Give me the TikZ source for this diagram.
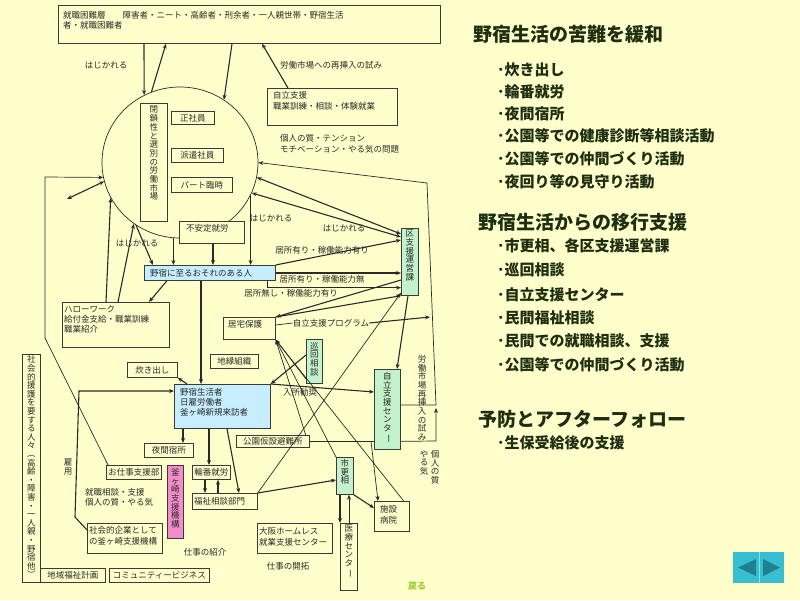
\documentclass[tikz,border=0pt]{standalone}
\usepackage{fontspec}
\usepackage{graphicx}
\newfontfamily\jp{Noto Sans CJK JP}
\usetikzlibrary{shapes.geometric,arrows.meta,calc}
\definecolor{bgc}{HTML}{FFFFCC}
\definecolor{bluec}{HTML}{C6EEFF}
\definecolor{greenc}{HTML}{C4F2CC}
\definecolor{pinkc}{HTML}{F28CCB}
\definecolor{edgec}{HTML}{3A3A3A}
\definecolor{linec}{HTML}{2A2A2A}
\definecolor{txtc}{HTML}{2A2A2A}
\definecolor{rtc}{HTML}{1E2E10}
\definecolor{modoruc}{HTML}{99CC33}
\definecolor{tealc}{HTML}{38BFCF}
\definecolor{tealdk}{HTML}{1F8090}
\definecolor{teallt}{HTML}{7FE0EA}
\newcommand\vrot[1]{\rotatebox[origin=c]{-90}{#1}}
\tikzset{
  bx/.style={draw=edgec, line width=0.7pt, fill=bgc, inner sep=0pt, anchor=north west,
    font=\jp\fontsize{8.5}{10}\selectfont, text=txtc},
  bxb/.style={bx, fill=bluec},
  bxg/.style={bx, fill=greenc},
  bxp/.style={bx, fill=pinkc},
  vt/.style={align=center, inner sep=0pt, font=\jp\fontsize{8.5}{8.7}\selectfont, text=txtc},
  vtl/.style={vt, anchor=north},
  lt/.style={anchor=north west, inner sep=0pt, align=left, font=\jp\fontsize{8.5}{10.5}\selectfont, text=txtc},
  lbl/.style={inner sep=0pt, font=\jp\fontsize{8.5}{10}\selectfont, text=txtc},
  ar/.style={-{Stealth[length=5pt,width=4pt]}, line width=1.1pt, draw=linec},
  art/.style={-{Stealth[length=5pt,width=4pt]}, line width=0.7pt, draw=linec},
  dar/.style={{Stealth[length=5pt,width=4pt]}-{Stealth[length=5pt,width=4pt]}, line width=1.1pt, draw=linec},
  ln/.style={line width=0.7pt, draw=linec},
  rtitle/.style={anchor=west, inner sep=0pt, text=rtc, font=\jp\bfseries\fontsize{19}{22}\selectfont},
  ritem/.style={anchor=west, inner sep=0pt, text=rtc, font=\jp\bfseries\fontsize{15}{17}\selectfont}
}
\begin{document}
\begin{tikzpicture}[x=1pt,y=-1pt]
\fill[bgc] (0,0) rectangle (800,600);
\useasboundingbox (0,0) rectangle (800,600);

% ---------- labour market ellipse and its content
\node[draw=linec, line width=0.7pt, ellipse, minimum width=156, minimum height=151, inner sep=0pt] (mkt) at (180,162.5) {};

\node[bx, minimum width=382, minimum height=38,
  label={[lt,xshift=5,yshift=-6,font=\jp\fontsize{8.5}{10}\selectfont]north west:{就職困難層　　障害者・ニート・高齢者・刑余者・一人親世帯・野宿生活\\者・就職困難者}}] (top) at (58,5) {};
\node[bx, minimum width=130, minimum height=37,
  label={[lt,xshift=6,yshift=-3,font=\jp\fontsize{8.5}{11.5}\selectfont]north west:{自立支援\\職業訓練・相談・体験就業}}] (jiritsu1) at (267,88) {};

\node[bx, minimum width=27, minimum height=118,
  label={[vtl,yshift=-3]north:{閉\\鎖\\性\\と\\選\\別\\の\\労\\働\\市\\場}}] (heisa) at (140,103) {};
\node[bx, minimum width=43, minimum height=13] (seisha) at (171,111) {正社員};
\node[bx, minimum width=52, minimum height=14] (haken) at (171,148) {派遣社員};
\node[bx, minimum width=61, minimum height=15] (part) at (171,177) {パート臨時};
\node[bx, minimum width=65, minimum height=22,
  label={[lt,xshift=7,yshift=-3]north west:{不安定就労}}] (fuantei) at (179,221) {};

% ---------- left / middle boxes
\node[bx, minimum width=107, minimum height=45,
  label={[lt,xshift=2,yshift=-3,font=\jp\fontsize{8.5}{10}\selectfont]north west:{ハローワーク\\給付金支給・職業訓練\\職業紹介}}] (hello) at (62,302) {};
\node[bxb, minimum width=131, minimum height=15,
  label={[lbl,anchor=west,xshift=6]west:{野宿に至るおそれのある人}}] (nojuku) at (144,265) {};
\node[bxg, minimum width=17, minimum height=67,
  label={[vtl,yshift=-2]north:{区\\支\\援\\運\\営\\課}}] (kushien) at (401,228) {};
\node[bx, minimum width=52, minimum height=22,
  label={[lt,xshift=5,yshift=-3.5]north west:{居宅保護}}] (kyotaku) at (223,317) {};
\node[bxg, minimum width=16, minimum height=44,
  label={[vtl,yshift=-3]north:{巡\\回\\相\\談}}] (junkai) at (306,339) {};
\node[bx, minimum width=48, minimum height=14] (chien) at (210,354) {地縁組織};
\node[bx, minimum width=50, minimum height=15] (takidashi) at (127,362) {炊き出し};
\node[bxb, minimum width=96, minimum height=44,
  label={[lt,xshift=6,yshift=-4,font=\jp\fontsize{8.5}{10.2}\selectfont]north west:{野宿生活者\\日雇労働者\\釜ヶ崎新規来訪者}}] (nojukusei) at (174,384) {};
\node[bx, minimum width=49, minimum height=14] (yakan) at (144,443) {夜間宿所};
\node[bx, minimum width=55, minimum height=14] (oshigoto) at (106,465) {お仕事支援部};
\node[bxp, minimum width=16, minimum height=73,
  label={[vtl,yshift=-3]north:{釜\\ヶ\\崎\\支\\援\\機\\構}}] (kamasien) at (167,465) {};
\node[bx, minimum width=38, minimum height=14] (rinban) at (192,465) {輪番就労};
\node[bx, minimum width=65, minimum height=16,
  label={[lbl,anchor=west,xshift=2]west:{福祉相談部門}}] (fukushi) at (192,493) {};
\node[bx, minimum width=75, minimum height=30,
  label={[lt,xshift=2,yshift=-3,font=\jp\fontsize{8.5}{11}\selectfont]north west:{社会的企業として\\の釜ヶ崎支援機構}}] (shakai) at (87,523) {};
\node[bx, minimum width=18, minimum height=228,
  label={[vtl,yshift=-1.5,font=\jp\fontsize{8.5}{8.6}\selectfont]north:{社\\会\\的\\援\\護\\を\\要\\す\\る\\人\\々\\\vrot{（}\\高\\齢\\・\\障\\害\\・\\一\\人\\親\\・\\野\\宿\\他\\\vrot{）}}}] (engo) at (22,354) {};
\node[bx, minimum width=65, minimum height=14] (chiiki) at (40,568) {地域福祉計画};
\node[bx, minimum width=100, minimum height=14] (community) at (109,568) {コミュニティービジネス};
\node[bx, minimum width=73, minimum height=12] (koen) at (236,435) {公園仮設避難所};
\node[bxg, minimum width=26, minimum height=80,
  label={[vtl,yshift=-3]north:{自\\立\\支\\援\\セ\\ン\\タ\\\vrot{ー}}}] (jiritsuC) at (374,369) {};
\node[bxg, minimum width=17, minimum height=37,
  label={[vtl,yshift=-2]north:{市\\更\\相}}] (shikou) at (336,457) {};
\node[bx, minimum width=17, minimum height=67,
  label={[vtl,yshift=-2]north:{医\\療\\セ\\ン\\タ\\\vrot{ー}}}] (iryou) at (340,523) {};
\node[bx, minimum width=35, minimum height=30,
  label={[lt,xshift=6,yshift=-4,font=\jp\fontsize{8.5}{11}\selectfont]north west:{施設\\病院}}] (shisetsu) at (374,501) {};
\node[bx, minimum width=75, minimum height=30,
  label={[lt,xshift=2,yshift=-4,font=\jp\fontsize{8.5}{11}\selectfont]north west:{大阪ホームレス\\就業支援センター}}] (osaka) at (257,523) {};

% ---------- free labels
\node[lbl] (hj1) at (106,65) {はじかれる};
\node[lbl] (rsn) at (331,65) {労働市場への再挿入の試み};
\node[lbl, anchor=north west, align=left, font=\jp\fontsize{8.5}{11}\selectfont] (kojin) at (280,134) {個人の質・テンション\\モチベーション・やる気の問題};
\node[lbl] (hj2) at (271,218) {はじかれる};
\node[lbl] (hj3) at (344,228) {はじかれる};
\node[lbl] (hj4) at (137,243) {はじかれる};
\node[lbl] (ky1) at (322,250) {居所有り・稼働能力有り};
\node[lbl] (ky2) at (322,279) {居所有り・稼働能力無};
\node[lbl] (ky3) at (291,293) {居所無し・稼働能力有り};
\node[lbl] (jprog) at (331,323) {自立支援プログラム};
\node[lbl] (nyusho) at (300,392) {入所勧奨};
\node[vtl] (rodo2) at (422,355) {労\\働\\市\\場\\再\\挿\\入\\の\\試\\み};
\node[vtl] (kojin2a) at (435,450) {個\\人\\の\\質};
\node[vtl] (kojin2b) at (424,450) {や\\る\\気};
\node[vtl] (koyou) at (68,459) {雇\\用};
\node[lbl, anchor=north west, align=left, font=\jp\fontsize{8.5}{10.5}\selectfont] (shushoku) at (85,488) {就職相談・支援\\個人の質・やる気};
\node[lbl] (sg1) at (205,552) {仕事の紹介};
\node[lbl] (sg2) at (288,566) {仕事の開拓};
\node[lbl, text=modoruc, font=\jp\bfseries\fontsize{9}{10}\selectfont] (modoru) at (417,586) {戻る};

% ---------- connectors
\draw[ar] ([xshift=86]top.south west) -- (mkt.118);
\draw[ar] (mkt.112) -- ([xshift=108]top.south west);
\draw[ar] ([xshift=174]top.south west) -- (mkt.55);
\draw[ar] ([xshift=21]jiritsu1.north west) -- ([xshift=204]top.south west);

\coordinate (lc1) at (45,338);
\coordinate (lc2) at (45,177);
\draw[art] ([xshift=2]oshigoto.north west) -- (lc1) -- (lc2) -- (mkt.191);
\coordinate (fr1) at (67,199);
\draw[dar] (fr1) -- (mkt.194);
\draw[ar] ([xshift=44]hello.north west) -- (mkt.207);
\draw[ar] ([xshift=56]hello.north west) -- (mkt.233);
\draw[ar] (mkt.235) -- ([xshift=9]nojuku.north west);
\draw[ar] (mkt.265) -- (mkt.265 |- nojuku.north);
\coordinate (f1) at ([xshift=34]fuantei.south west);
\draw[ar] (f1) -- (f1 |- nojuku.north);
\draw[ar] (mkt.335) -- (mkt.335 |- nojuku.north);

\draw[dar] (mkt.349) -- ([yshift=-6]kushien.north west);
\draw[dar] (mkt.337) -- ([yshift=-9]kushien.north west);
\draw[ar] (nojuku.north east) -- ([yshift=-12]kushien.north west);
\coordinate (n2) at ([yshift=-8]nojuku.north east);
\draw[ar] (n2) -- (n2 -| kushien.west);
\coordinate (n3) at ([xshift=-8]nojuku.south east);
\coordinate (n3b) at ([yshift=-7]n3);
\draw[ar] (n3) -- (n3b) -- (n3b -| kushien.west);

\draw[ar] ([yshift=-52]kushien.north west) -- (kyotaku.north east);
\draw[ar] (kyotaku.north east) -- (kushien.south west);
\draw[ln] ([yshift=-8]kyotaku.north east) -- (jprog.west);
\coordinate (jpend) at (430,317);
\draw[ar] (jprog.east) -- (jpend);
\draw[ar] ([xshift=7]kushien.south west) -- ([xshift=23]jiritsuC.north west);

\coordinate (r1) at (436,405);
\coordinate (r2) at (427,183);
\draw[art] ([yshift=-36]jiritsuC.north east) -- (r1) -- (r2) -- (mkt.0);
\coordinate (r3) at (436,441);
\coordinate (r4) at (436,408);
\draw[art] (koen.east -| jiritsuC.east) -- (r3) -- (r4);
\draw[ln] (koen.east) -- (koen.east -| jiritsuC.west);
\coordinate (kb) at ($(koen.east -| jiritsuC.west)+(-3,0)$);
\draw[art] (kb) -- ([xshift=4]shisetsu.north west);

\coordinate (n4) at ([xshift=57]nojuku.south west);
\draw[ar] (n4) -- (n4 |- nojukusei.north);
\draw[ar] ([xshift=23]nojuku.south west) -- ([xshift=87]hello.north west);
\draw[ar] ([xshift=13]nojukusei.north west) -- (takidashi.south east);

\coordinate (e1) at (75,517);
\coordinate (e2) at (79,391);
\draw[ar] ([yshift=-7]shakai.north west) -- (e1) -- (e2) -- ([yshift=-7]nojukusei.north west);

\coordinate (s1) at ([xshift=9]nojukusei.south west);
\draw[ar] (s1) -- (s1 |- yakan.north);
\coordinate (s2) at ([xshift=35]nojukusei.south west);
\draw[ar] (s2) -- (s2 |- rinban.north);
\draw[ar] ([xshift=53]nojukusei.south west) -- ([xshift=47]fukushi.north west);
\draw[ar] ([xshift=13]rinban.south west) -- ([xshift=13]fukushi.north west);
\draw[ar] ([xshift=26]fukushi.north west) -- ([xshift=26]rinban.south west);
\draw[ar] (fukushi.north east) -- ([yshift=-23]shikou.north west);
\draw[art] (fukushi.north east) -- ([yshift=3]kushien.south west);

\draw[ar] ([yshift=-16]junkai.north west) -- (nojukusei.north east);
\draw[ar] (nojukusei.north east) -- ([yshift=-23]jiritsuC.north west);

\draw[art] ([yshift=-40]junkai.north west) -- (kyotaku.south east);
\draw[art] ([xshift=-4]koen.north east) -- (kyotaku.south east);
\draw[art] (shikou.north west) -- (kyotaku.south east);
\draw[art] ([xshift=-6]shisetsu.north east) -- (kyotaku.south east);

\coordinate (m1) at ([xshift=4]shikou.south west);
\draw[ar] (m1) -- (m1 |- iryou.north);
\coordinate (m2) at ([xshift=9]iryou.north west);
\draw[art] (m2) -- (m2 |- shikou.south);
\draw[ar] (shikou.south east) -- ([yshift=-7]shisetsu.north west);

% ---------- right panel
\node[rtitle] (t1) at (473,34) {野宿生活の苦難を緩和};
\node[ritem] (i11) at (497,70) {･炊き出し};
\node[ritem] (i12) at (497,92) {･輪番就労};
\node[ritem] (i13) at (497,114) {･夜間宿所};
\node[ritem] (i14) at (497,136) {･公園等での健康診断等相談活動};
\node[ritem] (i15) at (497,159) {･公園等での仲間づくり活動};
\node[ritem] (i16) at (497,182) {･夜回り等の見守り活動};
\node[rtitle] (t2) at (478,222) {野宿生活からの移行支援};
\node[ritem] (i21) at (497,246) {･市更相、各区支援運営課};
\node[ritem] (i22) at (497,270) {･巡回相談};
\node[ritem] (i23) at (497,295) {･自立支援センター};
\node[ritem] (i24) at (497,318) {･民間福祉相談};
\node[ritem] (i25) at (497,341) {･民間での就職相談、支援};
\node[ritem] (i26) at (497,365) {･公園等での仲間づくり活動};
\node[rtitle] (t3) at (478,419) {予防とアフターフォロー};
\node[ritem] (i31) at (497,443) {･生保受給後の支援};

% ---------- navigation buttons
\fill[tealc] (733,552) rectangle (784,583);
\draw[teallt, line width=1pt] (759,552) -- (759,583);
\fill[tealdk] (738,567.5) -- (756,559) -- (756,576) -- cycle;
\fill[tealdk] (780,567.5) -- (763,559) -- (763,576) -- cycle;
\end{tikzpicture}
\end{document}
